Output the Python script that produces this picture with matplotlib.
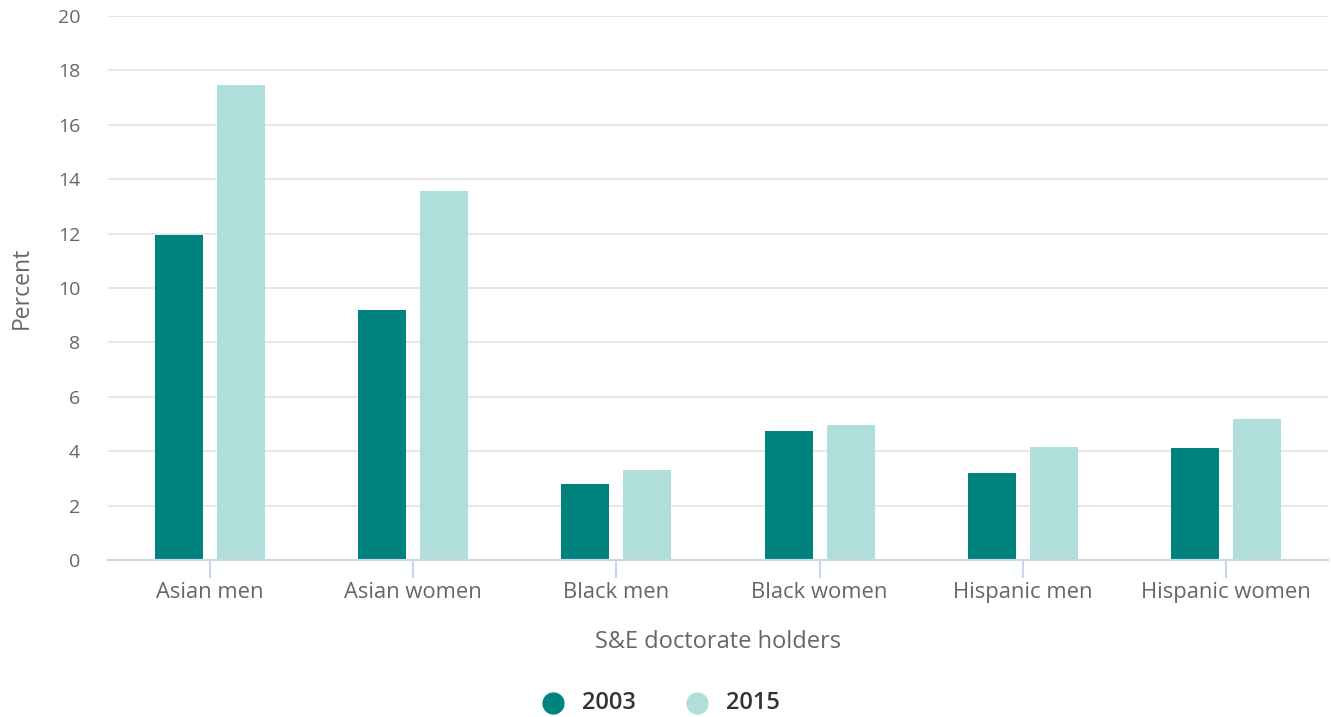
import matplotlib
matplotlib.use("Agg")
import matplotlib.pyplot as plt
from matplotlib.lines import Line2D
import numpy as np

categories = ["Asian men", "Asian women", "Black men", "Black women", "Hispanic men", "Hispanic women"]
series_names = ["2003", "2015"]
values_2003 = [11.95, 9.2, 2.8, 4.75, 3.2, 4.1]
values_2015 = [17.45, 13.55, 3.3, 4.95, 4.15, 5.2]
y_ticks = [0, 2, 4, 6, 8, 10, 12, 14, 16, 18, 20]

colors = ["#00837f", "#b0deda"]
plt.rcParams["font.family"] = ["Open Sans", "DejaVu Sans"]

W, H = 1331, 717
fig = plt.figure(figsize=(W / 100, H / 100), dpi=100)
ax = fig.add_axes([108 / W, (H - 560) / H, (1328 - 108) / W, (560 - 16) / H])

x = np.arange(len(categories))
bw = 48 / 203.3
off = 31 / 203.3
ax.bar(x - off, values_2003, width=bw, color=colors[0], zorder=3)
ax.bar(x + off, values_2015, width=bw, color=colors[1], zorder=3)

ax.set_xlim(-0.5, len(categories) - 0.5)
ax.set_ylim(0, 20)
ax.set_yticks(y_ticks)
ax.set_xticks(x)
ax.set_xticklabels(categories)
ax.grid(axis="y", color="#e6e6e6", linewidth=1.3, zorder=0)
for s in ["top", "right", "left"]:
    ax.spines[s].set_visible(False)
ax.spines["bottom"].set_color("#ccd6eb")
ax.spines["bottom"].set_linewidth(1.5)
ax.spines["bottom"].set_zorder(4)
ax.tick_params(axis="y", length=0, pad=20, labelsize=14, labelcolor="#666666")
ax.tick_params(axis="x", length=13, width=1.5, color="#ccd6eb", pad=3,
               labelsize=15.8, labelcolor="#666666")

ax.set_xlabel("S&E doctorate holders", fontsize=17, color="#666666", labelpad=19)
ax.set_ylabel("Percent", fontsize=16.5, color="#666666", labelpad=17)

# legend drawn manually in figure pixel coords
ly = (H - 703) / H
for name, c, mx, tx in [(series_names[0], colors[0], 553, 582), (series_names[1], colors[1], 697, 726)]:
    fig.add_artist(Line2D([mx / W], [ly], marker="o", linestyle="", markersize=15,
                          markerfacecolor=c, markeredgecolor=c, transform=fig.transFigure))
    fig.text(tx / W, ly, name, fontsize=17, fontweight="semibold", color="#333333",
             ha="left", va="center")

fig.savefig("out.png", dpi=100)
